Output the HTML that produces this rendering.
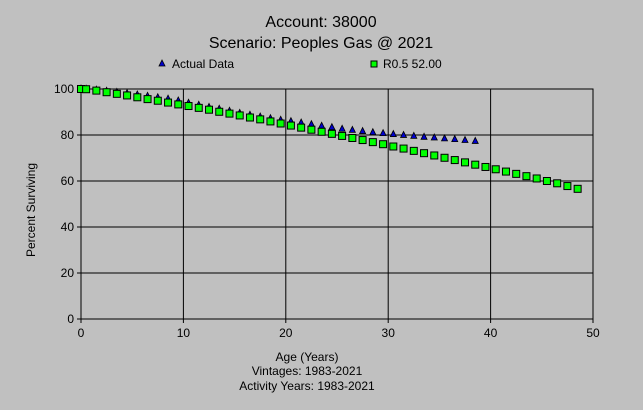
<!DOCTYPE html>
<html><head><meta charset="utf-8"><style>
body{margin:0;background:#c0c0c0;font-family:"Liberation Sans",Arial,sans-serif}
svg{display:block}
</style></head><body>
<svg width="643" height="410" xmlns="http://www.w3.org/2000/svg" id="chart">
<rect width="643" height="410" fill="#c0c0c0"/>
<text x="321" y="27" font-size="16" text-anchor="middle">Account: 38000</text>
<text x="321" y="48" font-size="16" text-anchor="middle">Scenario: Peoples Gas @ 2021</text>
<g>
<g>
<polygon points="162,60 159,66 165,66" fill="#0000cc" stroke="#000" stroke-width="0.8"/>
<text x="172" y="68" font-size="12">Actual Data</text></g>
<g>
<rect x="371" y="61" width="6" height="6" fill="#00ff00" stroke="#000"/>
<text x="383" y="68" font-size="12">R0.5 52.00</text></g>
</g>
<g id="grid"></g>
<g id="ticks"></g>
<g id="marks"></g>
<text x="35" y="210" font-size="12" text-anchor="middle" transform="rotate(-90 35 210)">Percent Surviving</text>
<text x="307" y="361" font-size="12" text-anchor="middle">Age (Years)</text>
<text x="307" y="375" font-size="12" text-anchor="middle">Vintages: 1983-2021</text>
<text x="307" y="390" font-size="12" text-anchor="middle">Activity Years: 1983-2021</text>
</svg>
<script>
const xTicks=[0,10,20,30,40,50];
const yTicks=[0,20,40,60,80,100];
const curveAges=[0,0.5,1.5,2.5,3.5,4.5,5.5,6.5,7.5,8.5,9.5,10.5,11.5,12.5,13.5,14.5,15.5,16.5,17.5,18.5,19.5,20.5,21.5,22.5,23.5,24.5,25.5,26.5,27.5,28.5,29.5,30.5,31.5,32.5,33.5,34.5,35.5,36.5,37.5,38.5,39.5,40.5,41.5,42.5,43.5,44.5,45.5,46.5,47.5,48.5];
const curveValues=[100,99.9,99.3,98.6,97.9,97.2,96.4,95.6,94.9,94.1,93.3,92.6,91.8,91.0,90.1,89.3,88.5,87.6,86.8,85.9,85.0,84.1,83.2,82.3,81.4,80.5,79.6,78.7,77.8,76.9,76.0,75.0,74.1,73.1,72.1,71.1,70.1,69.1,68.1,67.1,66.1,65.1,64.1,63.1,62.1,61.1,60.0,59.0,57.8,56.6];
const actualAges=curveAges.slice(0,40);
const actualValues=[100,99.9,99.5,99.0,98.5,98.0,97.4,96.8,96.2,95.6,94.8,93.8,92.9,92.0,91.2,90.3,89.4,88.6,87.8,87.1,86.4,85.8,85.2,84.5,83.8,83.2,82.5,82.0,81.5,81.0,80.6,80.2,79.8,79.4,79.0,78.7,78.3,78.0,77.6,77.2];
const X0=81,X1=593,Y0=319,Y1=89;
const xs=v=>X0+(X1-X0)*v/50, ys=v=>Y0-(Y0-Y1)*v/100;
const NS='http://www.w3.org/2000/svg';
function mk(t,a,p){const e=document.createElementNS(NS,t);for(const k in a)e.setAttribute(k,a[k]);p.appendChild(e);return e;}
const grid=document.getElementById('grid'),ticks=document.getElementById('ticks'),marks=document.getElementById('marks');
const frame=mk('rect',{x:X0,y:Y1,width:X1-X0,height:Y0-Y1,fill:'none',stroke:'#000'},grid);


xTicks.forEach(v=>{
 const l=mk('line',{x1:xs(v),x2:xs(v),y1:Y1,y2:Y0+4,stroke:'#000'},grid);
 
 
 const t=mk('text',{x:xs(v),y:Y0+18,'font-size':12,'text-anchor':'middle'},ticks);t.textContent=v;
 
 
});
yTicks.forEach(v=>{
 const l=mk('line',{x1:X0-4,x2:X1,y1:ys(v),y2:ys(v),stroke:'#000'},grid);
 
 
 const t=mk('text',{x:X0-7,y:ys(v)+4,'font-size':12,'text-anchor':'end'},ticks);t.textContent=v;
 
 
});
actualAges.forEach((a,i)=>{
 const x=xs(a),y=ys(actualValues[i]);
 const p=mk('polygon',{points:`${x},${y-4} ${x-3},${y+2} ${x+3},${y+2}`,fill:'#0000cc',stroke:'#000','stroke-width':0.8},marks);
 
 
});
curveAges.forEach((a,i)=>{
 const r=mk('rect',{x:xs(a)-3.5,y:ys(curveValues[i])-3.5,width:7,height:7,fill:'#00ff00',stroke:'#000'},marks);
 
 
});
</script>
</body></html>
